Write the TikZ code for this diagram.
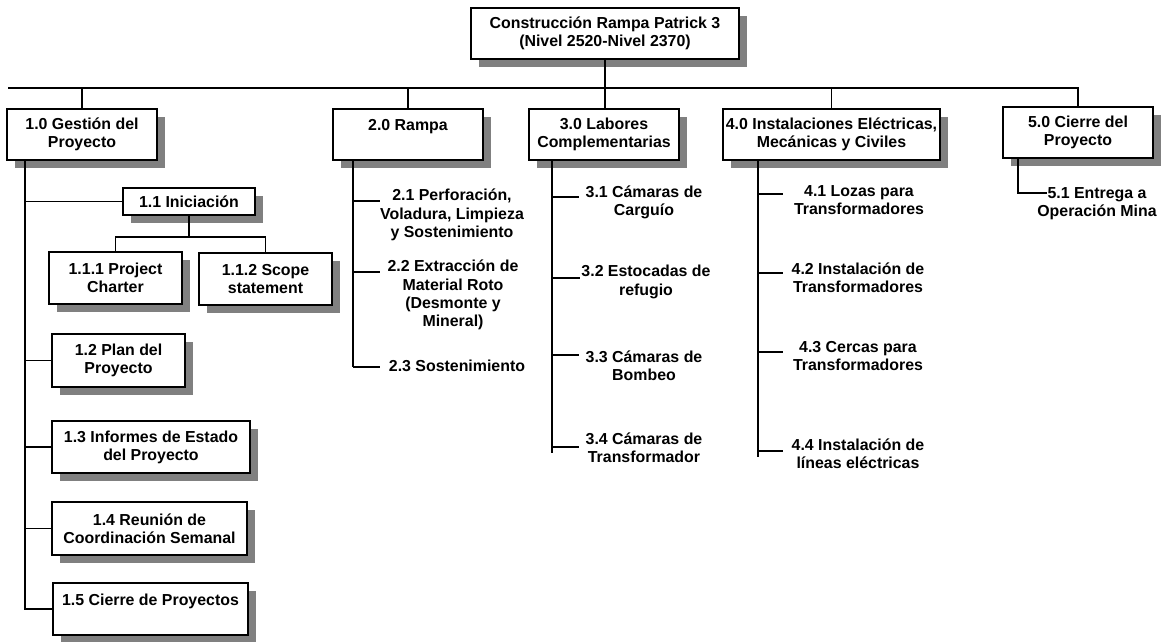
\documentclass[tikz,border=0pt]{standalone}
\usepackage{fontspec}
\setmainfont{Liberation Sans}
\usetikzlibrary{shadows}
\definecolor{shadowgray}{RGB}{128,128,128}
\begin{document}
\begin{tikzpicture}[x=1pt,y=-1pt,
  font=\fontsize{15.9}{18.2}\selectfont\bfseries,
  wire/.style={line width=1.8pt},
  box/.style={draw, line width=1.8pt, fill=white, align=center, inner sep=0pt,
    drop shadow={shadow xshift=8pt, shadow yshift=-8pt, fill=shadowgray, opacity=1}},
  leaf/.style={align=center, inner sep=0pt}]
\fill[white] (0,0) rectangle (1164,642);
\useasboundingbox (0,0) rectangle (1164,642);

% top level
\node[box, minimum width=268pt, minimum height=51pt] (top) at (605,33.5)
  {Construcción Rampa Patrick 3\\(Nivel 2520-Nivel 2370)};

% first level
\node[box, minimum width=150pt, minimum height=51pt] (n10) at (82,134.5) {1.0 Gestión del\\Proyecto};
\node[box, minimum width=150pt, minimum height=51pt] (n20) at (408,134.5) {2.0 Rampa\\\mbox{}};
\node[box, minimum width=150pt, minimum height=51pt] (n30) at (604,134.5) {3.0 Labores\\Complementarias};
\node[box, minimum width=217pt, minimum height=51pt] (n40) at (831.5,134.5) {4.0 Instalaciones Eléctricas,\\Mecánicas y Civiles};
\node[box, minimum width=150pt, minimum height=51pt] (n50) at (1078,132.5) {5.0 Cierre del\\Proyecto};

% branch 1.0
\node[box, minimum width=132pt, minimum height=27pt] (n11) at (189,201.5) {1.1 Iniciación};
\node[box, minimum width=133pt, minimum height=52pt] (n111) at (115.5,278) {1.1.1 Project\\Charter};
\node[box, minimum width=133pt, minimum height=52pt] (n112) at (265.5,279) {1.1.2 Scope\\statement};
\node[box, minimum width=133pt, minimum height=53pt] (n12) at (118.5,360.5) {1.2 Plan del\\Proyecto};
\node[box, minimum width=198pt, minimum height=52pt] (n13) at (151,447) {1.3 Informes de Estado\\del Proyecto};
\node[box, minimum width=195pt, minimum height=53pt] (n14) at (149.5,528.5) {1.4 Reunión de\\Coordinación Semanal};
\node[box, minimum width=195pt, minimum height=52pt] (n15) at (150.5,609) {1.5 Cierre de Proyectos\\\mbox{}};

% branch 2.0
\node[leaf] (t21) at (452,215) {2.1 Perforación,\\Voladura, Limpieza\\y Sostenimiento};
\node[leaf] (t22) at (453,295) {2.2 Extracción de\\Material Roto\\(Desmonte y\\Mineral)};
\node[leaf] (t23) at (457,366) {2.3 Sostenimiento};

% branch 3.0
\node[leaf] (t31) at (644,202) {3.1 Cámaras de\\Carguío};
\node[leaf] (t32) at (646,282) {3.2 Estocadas de\\refugio};
\node[leaf] (t33) at (644,366) {3.3 Cámaras de\\Bombeo};
\node[leaf] (t34) at (644,447.5) {3.4 Cámaras de\\Transformador};

% branch 4.0
\node[leaf] (t41) at (859,200) {4.1 Lozas para\\Transformadores};
\node[leaf] (t42) at (858,277.5) {4.2 Instalación de\\Transformadores};
\node[leaf] (t43) at (858,356) {4.3 Cercas para\\Transformadores};
\node[leaf] (t44) at (858,454) {4.4 Instalación de\\líneas eléctricas};

% branch 5.0
\node[leaf] (t51) at (1097,204) {5.1 Entrega a\\Operación Mina};

% connector end points
\coordinate (busL) at (8,88);
\coordinate (s1) at (25,610);
\coordinate (b11) at (189,237);
\coordinate (s2) at (353,367);
\coordinate (e21) at (380,201);
\coordinate (e22) at (380,272);
\coordinate (e23) at (380,367);
\coordinate (s3) at (552,453);
\coordinate (e31) at (579,197);
\coordinate (e32) at (580,278);
\coordinate (e33) at (579,355);
\coordinate (e34) at (579,447);
\coordinate (s4) at (758,457);
\coordinate (e41) at (783,194);
\coordinate (e42) at (783,273);
\coordinate (e43) at (783,352);
\coordinate (e44) at (783,451);
\coordinate (s5) at (1018,193);
\coordinate (e51) at (1047,193);

% main bus
\draw[wire] (busL) -- (busL -| n50.north) -- (n50.north);
\draw[wire] (top.south) -- (top.south |- n30.north);
\foreach \n in {n10,n20,n40} \draw[wire] (\n.north) -- (\n.north |- busL);

% 1.0 spine
\draw[wire] (n10.south -| s1) -- (s1);
\foreach \n in {n11,n12,n13,n14,n15} \draw[wire] (\n.west -| s1) -- (\n.west);
\draw[wire] (n11.south) -- (b11);
\draw[wire] (n111.north) |- (b11) -| (n112.north);

% 2.0 spine
\draw[wire] (n20.south -| s2) -- (s2);
\foreach \e in {e21,e22,e23} \draw[wire] (\e -| s2) -- (\e);

% 3.0 spine
\draw[wire] (n30.south -| s3) -- (s3);
\foreach \e in {e31,e32,e33,e34} \draw[wire] (\e -| s3) -- (\e);

% 4.0 spine
\draw[wire] (n40.south -| s4) -- (s4);
\foreach \e in {e41,e42,e43,e44} \draw[wire] (\e -| s4) -- (\e);

% 5.0
\draw[wire] (n50.south -| s5) |- (e51);
\end{tikzpicture}
\end{document}
